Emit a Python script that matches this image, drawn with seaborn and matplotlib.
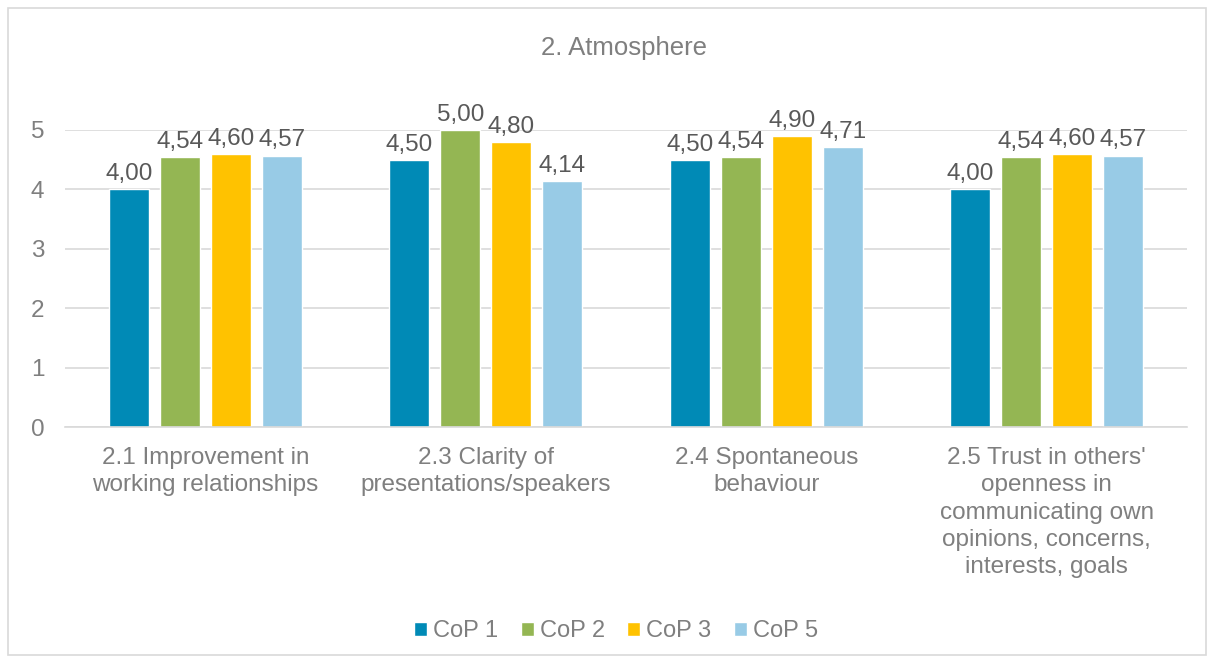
import matplotlib
matplotlib.use("Agg")
import matplotlib.pyplot as plt
import seaborn as sns
import pandas as pd
from matplotlib.patches import Rectangle

categories = [
    "2.1 Improvement in\nworking relationships",
    "2.3 Clarity of\npresentations/speakers",
    "2.4 Spontaneous\nbehaviour",
    "2.5 Trust in others'\nopenness in\ncommunicating own\nopinions, concerns,\ninterests, goals",
]
series = ["CoP 1", "CoP 2", "CoP 3", "CoP 5"]
cop1 = [4.00, 4.50, 4.50, 4.00]
cop2 = [4.54, 5.00, 4.54, 4.54]
cop3 = [4.60, 4.80, 4.90, 4.60]
cop5 = [4.57, 4.14, 4.71, 4.57]
yticks = [0, 1, 2, 3, 4, 5]
colors = ["#008AB6", "#94B653", "#FFC200", "#98CBE6"]

rows = []
for name, vals in zip(series, [cop1, cop2, cop3, cop5]):
    for cat, v in zip(categories, vals):
        rows.append({"category": cat, "series": name, "value": v})
df = pd.DataFrame(rows)

sns.set_style("white")
plt.rcParams["font.family"] = ["Liberation Sans", "DejaVu Sans"]
label_color = "#595959"
text_color = "#7F7F7F"

fig = plt.figure(figsize=(12.14, 6.62), dpi=100)
ax = fig.add_axes([65 / 1214, 1 - 427 / 662, 1122 / 1214, 297 / 662])

sns.barplot(data=df, x="category", y="value", hue="series", order=categories,
            hue_order=series, palette=colors, width=0.727, gap=0.216,
            saturation=1, ax=ax, legend=True)

ax.set_ylim(0, 5)
ax.set_yticks(yticks)
ax.set_yticklabels([str(t) for t in yticks])
ax.set_xlim(-0.5, len(categories) - 0.5)
ax.yaxis.grid(True, color="#D9D9D9", linewidth=1.2)
ax.set_axisbelow(True)
for s in ["top", "right", "left"]:
    ax.spines[s].set_visible(False)
ax.spines["bottom"].set_color("#D9D9D9")
ax.spines["bottom"].set_linewidth(1.2)
ax.tick_params(axis="y", length=0, pad=15, labelsize=17.5, labelcolor=text_color)
ax.tick_params(axis="x", length=0, pad=14.5, labelsize=17.5, labelcolor=text_color)
for lab in ax.get_xticklabels():
    lab.set_linespacing(1.31)
    lab.set_horizontalalignment("center")
ax.set_xlabel("")
ax.set_ylabel("")

for cont in ax.containers:
    labels = [f"{b.get_height():.2f}".replace(".", ",") for b in cont]
    txts = ax.bar_label(cont, labels=labels, padding=3, fontsize=17.5,
                        color=label_color)
    for t in txts:
        t.set_clip_on(False)

fig.text(624 / 1214, 1 - 48 / 662, "2. Atmosphere", ha="center", va="center",
         fontsize=18.5, color=text_color)

handles, labs = ax.get_legend_handles_labels()
ax.legend_.remove()
fig.legend(handles, labs, loc="center", bbox_to_anchor=(616 / 1214, 1 - 631 / 662),
           ncol=4, frameon=False, fontsize=17, labelcolor=text_color,
           handlelength=0.55, handleheight=0.55, handletextpad=0.25,
           columnspacing=0.95)

fig.patches.append(Rectangle((8 / 1214, 7 / 662), 1198 / 1214, 647 / 662,
                             transform=fig.transFigure, fill=False,
                             edgecolor="#D9D9D9", linewidth=1.2))

fig.savefig("out.png", dpi=100)
